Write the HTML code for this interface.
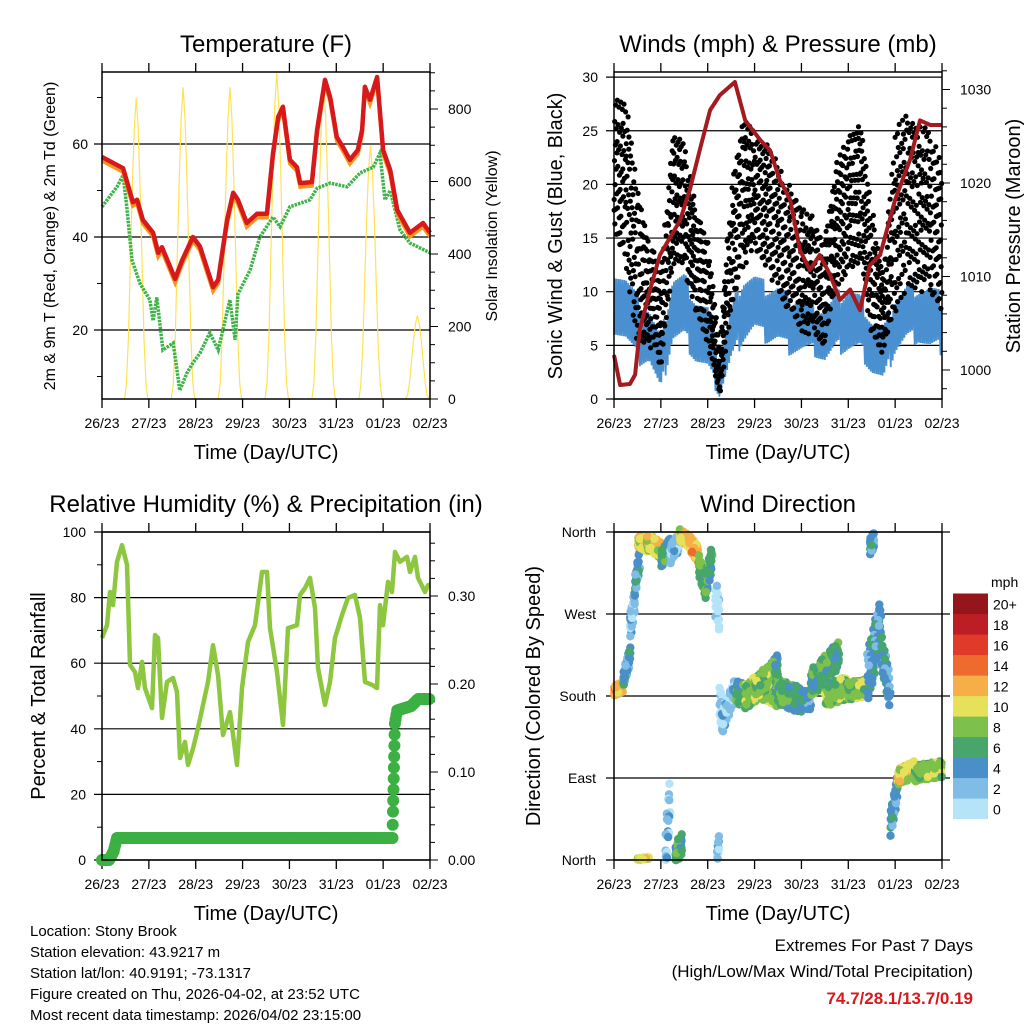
<!DOCTYPE html>
<html><head><meta charset="utf-8"><style>
body{margin:0;background:#fff;font-family:"Liberation Sans",sans-serif}
svg text{font-family:"Liberation Sans",sans-serif}
</style></head><body>
<svg id="c" width="1024" height="1024" viewBox="0 0 1024 1024"></svg>
<script>
// ===== DATA =====
const dayLabels=["26/23","27/23","28/23","29/23","30/23","31/23","01/23","02/23"];
// Temperature (time in days, value F)
const tRedT=[0,0.45,0.66,0.75,0.87,1.09,1.2,1.28,1.56,1.71,1.94,2.09,2.37,2.48,2.67,2.8,2.9,3.09,3.31,3.52,3.65,3.76,3.86,4.01,4.16,4.23,4.48,4.59,4.76,4.87,5.01,5.14,5.29,5.46,5.55,5.61,5.72,5.87,6.0,6.15,6.3,6.57,6.85,7.0];
const tRedV=[57.2,54.8,47.5,48,43.7,40.9,36.6,37.8,31,35,40,38,29.2,30.8,43.7,49.5,48,43,45,45,58,65.8,68,56.6,55,51.6,51.8,63,73.8,70,61.5,59.4,56.6,58.7,63,72.3,69.5,74.4,58.7,54.4,45.8,40.9,43,40.9];
const tGrnT=[0,0.32,0.45,0.53,0.64,0.81,1.02,1.09,1.17,1.3,1.52,1.66,1.81,1.94,2.09,2.3,2.48,2.73,2.84,2.9,3.16,3.37,3.65,3.8,4.01,4.44,4.59,4.87,5.23,5.51,5.79,5.93,6.04,6.15,6.36,6.57,7.0];
const tGrnV=[46.5,50.8,53.3,46.5,35,30,26.5,22,27,15.7,17.2,7,10.7,12.9,15,19.4,15.7,26.5,17.9,27.7,32.9,40,44.3,42.2,46.5,48,50.5,51.6,50.8,53.8,55,58,48,50,41.5,38.7,36.6];
const solarDay=[0,1,2,3,4,5,6];
const solarPeak=[830,860,860,900,870,700,230];
// Winds
const wT=[0,0.25,0.5,0.75,1,1.25,1.5,1.75,2,2.25,2.5,2.75,3,3.25,3.5,3.75,4,4.25,4.5,4.75,5,5.25,5.5,5.75,6,6.25,6.5,6.75,7];
const gustMin=[15,12,5,5,3,12,12,8,5,0,8,12,14,12,10,8,6,6,5,10,12,12,6,4,8,10,10,10,8];
const gustMax=[28,28,20,15,12,25,24,18,15,5,20,26,25,24,22,20,18,17,15,22,25,26,18,12,25,27,26,25,22];
const sustMin=[6,5,3,3,0,5,5,3,2,0,3,5,6,5,5,4,4,4,3,4,4,4,2,1,4,5,5,4,4];
const sustMax=[13,12,10,9,6,12,12,10,9,4,9,12,12,11,11,10,10,9,9,10,11,10,8,7,10,11,11,11,10];
const presT=[0,0.13,0.34,0.45,0.55,0.77,0.98,1.41,1.62,1.83,2.05,2.26,2.58,2.8,3.12,3.33,3.54,3.76,3.97,4.18,4.39,4.61,4.82,5.04,5.25,5.46,5.68,6.0,6.32,6.53,6.75,7.0];
const presV=[1001.6,998.4,998.5,999.5,1004.3,1008.6,1012.3,1016,1019.3,1023.5,1027.8,1029.4,1030.8,1026.7,1024.6,1023.5,1020.3,1018.2,1012.8,1010.7,1012.3,1010.2,1007.5,1008.6,1006.4,1011.2,1012.3,1018.2,1022.5,1026.7,1026.2,1026.2];
// RH & precip
const rhT=[0,0.107,0.171,0.235,0.32,0.427,0.534,0.598,0.704,0.768,0.854,0.918,1.067,1.131,1.195,1.28,1.387,1.515,1.6,1.665,1.771,1.835,1.942,2.049,2.262,2.369,2.475,2.582,2.732,2.881,2.988,3.116,3.265,3.414,3.521,3.585,3.735,3.863,3.969,4.161,4.225,4.332,4.439,4.545,4.609,4.759,4.866,4.972,5.122,5.25,5.399,5.506,5.612,5.762,5.869,5.933,5.997,6.103,6.189,6.253,6.359,6.509,6.573,6.679,6.743,6.893,6.957,7.0];
const rhV=[67.7,71.6,81.7,77.7,90.9,96,90,59.5,57.3,52.4,60.4,52.4,46.3,68.6,67.7,43.3,54.3,55.5,51.2,31.1,36,29,34,40.2,54.3,65.5,56.4,38.1,45.1,29,52.4,66.5,71.6,87.8,87.8,70.7,57.3,41.2,70.7,71.6,80.8,82.9,86,76.8,58.5,47.3,54.3,67.7,74.7,79.9,80.8,73.8,54.3,53.4,52.4,77.7,71.6,84.8,81.7,93.9,90.9,92.4,87.8,92.4,86,81.7,83.8,84];
const prT=[0,0.15,0.25,0.32,6.2,6.21,6.25,6.3,6.6,6.75,7.0];
const prV=[0,0,0.01,0.025,0.025,0.055,0.155,0.17,0.175,0.183,0.183];
// Wind direction segments (time range, direction range deg, speed mph, spread deg)
const wdT0=[0,0.2,0.33,0.45,0.5,0.7,1.0,1.2,1.4,1.6,1.8,1.95,2.15,2.25,2.3,2.6,2.8,3.1,3.5,4.0,4.2,4.5,5.0,5.4,5.45,5.7,5.9,6.05,6.4,0.5,1.1,1.3,2.2,3.3,4.4,3.0];
const wdT1=[0.2,0.35,0.45,0.55,0.7,1.0,1.2,1.4,1.6,1.8,1.95,2.1,2.25,2.35,2.6,2.8,3.1,3.5,4.0,4.2,4.5,5.0,5.4,5.7,5.55,5.9,6.05,6.4,7.0,0.75,1.2,1.45,2.25,3.5,4.8,3.3];
const wdD0=[185,200,250,300,350,350,330,335,357,350,325,300,290,170,150,185,180,190,185,175,195,180,185,200,340,230,40,90,95,1,10,2,5,200,205,190];
const wdD1=[190,225,290,330,345,340,345,350,350,335,300,335,270,155,190,180,190,180,175,175,205,190,190,260,355,180,80,100,100,2,70,20,20,215,225,200];
const wdS=[13,5,2,5,11,11,6,3,11,12,7,6,1,1,2,7,9,8,6,5,7,9,9,4,5,4,4,10,9,10,3,7,2,6,7,8];
const wdSpread=[12,20,30,25,14,18,20,20,14,18,25,30,40,40,25,25,28,25,28,22,30,25,20,60,20,40,30,18,18,2,60,25,20,25,30,25];

// ===== HELPERS =====
const svg=document.getElementById('c');
const NS='http://www.w3.org/2000/svg';
function mk(tag,attrs,parent){const e=document.createElementNS(NS,tag);for(const k in attrs)e.setAttribute(k,attrs[k]);(parent||svg).appendChild(e);return e;}
function txt(s,x,y,size,anchor,parent,rot,style){const e=mk('text',{x:x,y:y,'font-size':size,'text-anchor':anchor||'middle'},parent);if(rot)e.setAttribute('transform','rotate(-90 '+x+' '+y+')');e.setAttribute('style',style||'fill:#000');e.textContent=s;return e;}
function pts(xs,ys){return xs.map((v,i)=>v.toFixed(1)+','+ys[i].toFixed(1)).join(' ');}
function frac(x){return x-Math.floor(x);}
const A1=0.7548776662,A2=0.5698402910;

function panel(name,x0,x1,y0,y1,title,xlab){
  const g=mk('g',{});
  
  
  const t=txt(title,(x0+x1)/2,y0-20,24,'middle',g);
  
  const xl=txt(xlab,(x0+x1)/2,y1+60,20,'middle',g);
  
  const xs=t=>x0+t*(x1-x0)/7;
  dayLabels.forEach((d,i)=>{const x=xs(i);
    mk('line',{x1:x,x2:x,y1:y1,y2:y1+9,stroke:'#000','stroke-width':1.3},g);
    mk('line',{x1:x,x2:x,y1:y0,y2:y0-9,stroke:'#000','stroke-width':1.3},g);
    const l=txt(d,x,y1+29,14,'middle',g);});
  return {g,xs};
}
function frame(g,x0,x1,y0,y1){mk('rect',{x:x0,y:y0,width:x1-x0,height:y1-y0,fill:'none',stroke:'#000','stroke-width':1.5},g);}

// ===== PANEL 1: TEMPERATURE =====
(function(){
  const x0=102,x1=430,y0=72,y1=399;
  const P=panel('temperature-panel',x0,x1,y0,y1,'Temperature (F)','Time (Day/UTC)');const g=P.g,xs=P.xs;
  const ys=v=>423-(v)*4.65;
  const ysR=v=>399-v*0.3625;
  [20,40,60].forEach(v=>{mk('line',{x1:x0-8,x2:x1,y1:ys(v),y2:ys(v),stroke:'#000','stroke-width':1.2},g);
    const l=txt(v,x0-14,ys(v)+5,14,'end',g);});
  [10,30,50,70].forEach(v=>mk('line',{x1:x0-5,x2:x0,y1:ys(v),y2:ys(v),stroke:'#000'},g));
  for(let v=0;v<=900;v+=50){const big=v%200==0;mk('line',{x1:x1,x2:x1+(big?8:5),y1:ysR(v),y2:ysR(v),stroke:'#000'},g);
    if(big){const l=txt(v,x1+18,ysR(v)+5,14,'start',g);}}
  // solar
  const shapeF=[0,0.05,0.2,0.45,0.7,0.9,1,0.9,0.7,0.45,0.2,0.05,0];
  solarDay.forEach((d,i)=>{const p=solarPeak[i];
    const tt=shapeF.map((f,k)=>d+0.48+k*0.5/(shapeF.length-1));
    const vv=shapeF.map(f=>f*p);
    const l=mk('polyline',{points:pts(tt.map(xs),vv.map(ysR)),fill:'none',stroke:'#ffe253','stroke-width':1.2},g);
    });
  const gr=mk('polyline',{points:pts(tGrnT.map(xs),tGrnV.map(ys)),fill:'none',stroke:'#3fb349','stroke-width':3.5,'stroke-dasharray':'2.5 1'},g);
  
  const or=mk('polyline',{points:pts(tRedT.map(xs),tRedV.map(v=>ys(v-0.8))),fill:'none',stroke:'#f7941d','stroke-width':4},g);
  
  const rd=mk('polyline',{points:pts(tRedT.map(xs),tRedV.map(ys)),fill:'none',stroke:'#d7191c','stroke-width':4.5,'stroke-linejoin':'round'},g);
  
  frame(g,x0,x1,y0,y1);
  const a=txt('2m & 9m T (Red, Orange) & 2m Td (Green)',55,236,16,'middle',g,true);
  const b=txt('Solar Insolation (Yellow)',497,236,16,'middle',g,true);
})();

// ===== PANEL 2: WINDS =====
(function(){
  const x0=614,x1=942,y0=72,y1=399;
  const P=panel('winds-panel',x0,x1,y0,y1,'Winds (mph) & Pressure (mb)','Time (Day/UTC)');const g=P.g,xs=P.xs;
  const ys=v=>399-v*10.73;
  const ysR=v=>370-(v-1000)*9.35;
  [0,5,10,15,20,25,30].forEach(v=>{mk('line',{x1:x0-8,x2:x1,y1:ys(v),y2:ys(v),stroke:'#000','stroke-width':1.2},g);
    const l=txt(v,x0-16,ys(v)+5,14,'end',g);});
  for(let v=998;v<=1032;v+=2){const big=v%10==0;mk('line',{x1:x1,x2:x1+(big?8:5),y1:ysR(v),y2:ysR(v),stroke:'#000'},g);
    if(big){const l=txt(v,x1+18,ysR(v)+5,14,'start',g);}}
  // sustained (blue) dense line
  let bx=[],by=[];
  for(let i=0;i<wT.length-1;i++){for(let k=0;k<24;k++){const f=k/24;const t=wT[i]+f*0.25;
    const lo=sustMin[i]+(sustMin[i+1]-sustMin[i])*f,hi=sustMax[i]+(sustMax[i+1]-sustMax[i])*f;
    const v=lo+(hi-lo)*frac((i*24+k)*A1);bx.push(xs(t));by.push(ys(v));}}
  const bl=mk('polyline',{points:pts(bx,by),fill:'none',stroke:'#4a90d0','stroke-width':1.8},g);
  
  // gusts (black dots)
  const gg=mk('g',{fill:'#000'},g);
  let n=0;
  for(let i=0;i<wT.length-1;i++){for(let k=0;k<55;k++){n++;const f=frac(n*A1);const t=wT[i]+f*0.25;
    const lo=gustMin[i]+(gustMin[i+1]-gustMin[i])*f,hi=gustMax[i]+(gustMax[i+1]-gustMax[i])*f;
    const v=lo+(hi-lo)*frac(n*A2);
    mk('circle',{cx:xs(t).toFixed(1),cy:ys(v).toFixed(1),r:2.6},gg);}}
  const pr=mk('polyline',{points:pts(presT.map(xs),presV.map(ysR)),fill:'none',stroke:'#a31a1f','stroke-width':4,'stroke-linejoin':'round'},g);
  
  frame(g,x0,x1,y0,y1);
  const a=txt('Sonic Wind & Gust (Blue, Black)',562,236,20,'middle',g,true);
  const b=txt('Station Pressure (Maroon)',1020,236,20,'middle',g,true);
})();

// ===== PANEL 3: RH =====
(function(){
  const x0=102,x1=430,y0=532,y1=860;
  const P=panel('humidity-panel',x0,x1,y0,y1,'Relative Humidity (%) & Precipitation (in)','Time (Day/UTC)');const g=P.g,xs=P.xs;
  const ys=v=>860-v*3.28;
  const ysR=v=>860-v*880;
  [0,20,40,60,80,100].forEach(v=>{mk('line',{x1:x0-8,x2:x1,y1:ys(v),y2:ys(v),stroke:'#000','stroke-width':1.2},g);
    const l=txt(v,x0-16,ys(v)+5,14,'end',g);});
  [10,30,50,70,90].forEach(v=>mk('line',{x1:x0-5,x2:x0,y1:ys(v),y2:ys(v),stroke:'#000'},g));
  for(let v=0;v<=0.37;v+=0.02){const big=Math.round(v*100)%10==0;mk('line',{x1:x1,x2:x1+(big?8:5),y1:ysR(v),y2:ysR(v),stroke:'#000'},g);
    if(big){const l=txt(v.toFixed(2),x1+18,ysR(v)+5,14,'start',g);}}
  const rh=mk('polyline',{points:pts(rhT.map(xs),rhV.map(ys)),fill:'none',stroke:'#8dc63f','stroke-width':4.5,'stroke-linejoin':'round'},g);
  
  const pg=mk('g',{fill:'#3cb043'},g);
  for(let i=0;i<prT.length-1;i++){const dt=prT[i+1]-prT[i],dv=prV[i+1]-prV[i];
    const n=Math.max(2,Math.round(dt*60),Math.round(Math.abs(dv)*80));
    for(let k=0;k<n;k++){const f=k/n;mk('circle',{cx:xs(prT[i]+dt*f).toFixed(1),cy:ysR(prV[i]+dv*f).toFixed(1),r:6},pg);}}
  frame(g,x0,x1,y0,y1);
  const a=txt('Percent & Total Rainfall',45,696,20,'middle',g,true);
})();

// ===== PANEL 4: WIND DIRECTION =====
const cbColors=['#b5e3f8','#7fbce6','#4a8fc8','#47a66b','#7dc04b','#e6e05a','#f6ae48','#ef6a2e','#df3a2a','#bd1d24','#94161a'];
const cbLabels=['0','2','4','6','8','10','12','14','16','18','20+'];
(function(){
  const x0=614,x1=942,y0=532,y1=860;
  const P=panel('wind-direction-panel',x0,x1,y0,y1,'Wind Direction','Time (Day/UTC)');const g=P.g,xs=P.xs;
  const ys=d=>860-d*328/360;
  ['North','East','South','West','North'].forEach((nm,i)=>{const y=ys(i*90);
    mk('line',{x1:x0-8,x2:x1+8,y1:y,y2:y,stroke:'#000','stroke-width':1.2},g);
    const l=txt(nm,x0-18,y+5,14,'end',g);});
  const dg=mk('g',{},g);
  let m=0;
  for(let i=0;i<wdT0.length;i++){const n=Math.max(10,Math.round((wdT1[i]-wdT0[i])*200));
    const ci=Math.min(10,Math.floor(wdS[i]/2));
    for(let k=0;k<n;k++){m++;const f=frac(m*A1);const t=wdT0[i]+(wdT1[i]-wdT0[i])*f;
      const d=wdD0[i]+(wdD1[i]-wdD0[i])*f+(frac(m*A2)-0.5)*wdSpread[i];
      const r=frac(m*0.41421356);const c=cbColors[Math.max(0,Math.min(10,ci+(r<0.25?-1:(r>0.8?1:0))))];
      mk('circle',{cx:xs(t).toFixed(1),cy:ys(Math.max(0,d)).toFixed(1),r:4.2,fill:c},dg);}}
  frame(g,x0,x1,y0,y1);
  const a=txt('Direction (Colored By Speed)',540,696,20,'middle',g,true);
  const cb=mk('g',{},g);
  cbColors.forEach((c,i)=>{const y=819-(i+1)*20.5;mk('rect',{x:953,y:y,width:35,height:20.6,fill:c},cb);
    const l=txt(cbLabels[i],993,y+16,14,'start',cb);});
  const u=txt('mph',991,587,14,'start',cb);
})();

// ===== FOOTER =====
const info=['Location: Stony Brook','Station elevation: 43.9217 m','Station lat/lon: 40.9191; -73.1317','Figure created on Thu, 2026-04-02, at 23:52 UTC','Most recent data timestamp: 2026/04/02 23:15:00'];
info.forEach((s,i)=>{const l=txt(s,30,936+i*21,15,'start');});
const e1=txt('Extremes For Past 7 Days',973,951,17,'end');
const e2=txt('(High/Low/Max Wind/Total Precipitation)',973,977,17,'end');
const e3=txt('74.7/28.1/13.7/0.19',973,1004,17,'end',null,false,'fill:#d7191c;font-weight:bold');
</script>
</body></html>
